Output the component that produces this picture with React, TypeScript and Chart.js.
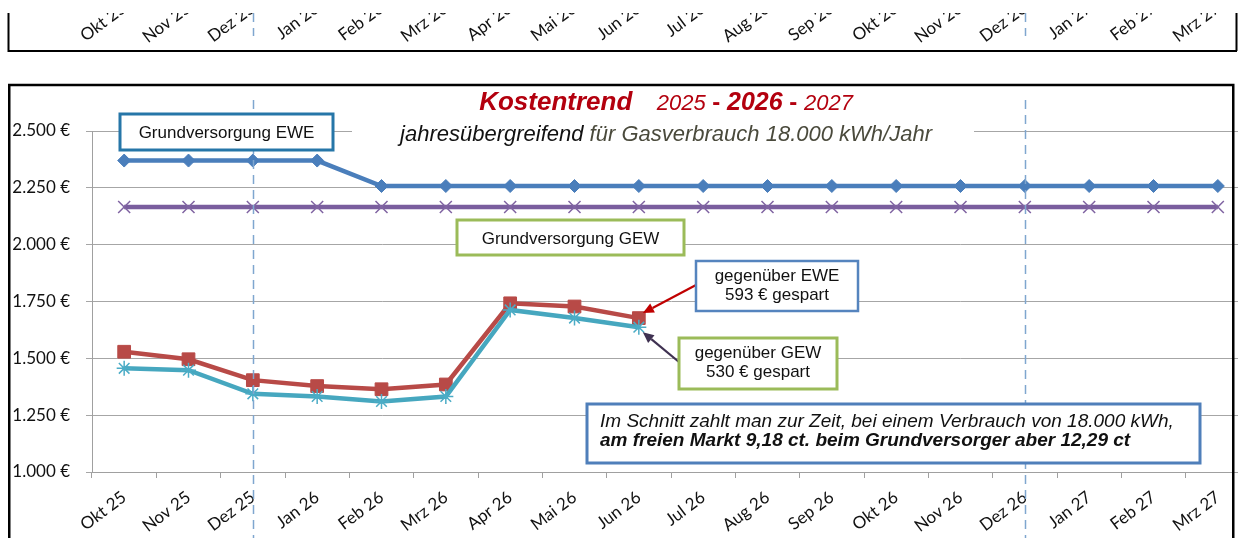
import { useEffect, useRef } from "react";
import { Chart, registerables } from "chart.js";

Chart.register(...registerables);

// ---------- data ----------
const categories = [
  "Okt 25", "Nov 25", "Dez 25", "Jan 26", "Feb 26", "Mrz 26", "Apr 26", "Mai 26", "Jun 26",
  "Jul 26", "Aug 26", "Sep 26", "Okt 26", "Nov 26", "Dez 26", "Jan 27", "Feb 27", "Mrz 27",
];
const grundversorgungEWE = [
  2370, 2370, 2370, 2370, 2258, 2258, 2258, 2258, 2258,
  2258, 2258, 2258, 2258, 2258, 2258, 2258, 2258, 2258,
];
const grundversorgungGEW = [
  2166, 2166, 2166, 2166, 2166, 2166, 2166, 2166, 2166,
  2166, 2166, 2166, 2166, 2166, 2166, 2166, 2166, 2166,
];
const tarifGegenEWE = [1529, 1496, 1404, 1378, 1364, 1385, 1742, 1728, 1677];
const tarifGegenGEW = [1456, 1448, 1344, 1332, 1310, 1332, 1713, 1677, 1637];
const yMin = 1000;
const yMax = 2500;
const yStep = 250;
const yearMarkers = ["Dez 25", "Dez 26"];

// ---------- texts ----------
const titleLine1 = [
  { t: "Kostentrend", f: "italic bold 26px", c: "#B3000E" },
  { t: "    2025", f: "italic 22px", c: "#B3000E" },
  { t: " - ", f: "bold 24px", c: "#B3000E" },
  { t: "2026", f: "italic bold 25px", c: "#B3000E" },
  { t: " - ", f: "bold 24px", c: "#B3000E" },
  { t: "2027", f: "italic 22px", c: "#B3000E" },
];
const titleLine2 = [
  { t: "jahresübergreifend ", f: "italic 22px", c: "#111111" },
  { t: "für Gasverbrauch 18.000 kWh/Jahr", f: "italic 22px", c: "#4A4A3C" },
];
const labelEWE = "Grundversorgung EWE";
const labelGEW = "Grundversorgung GEW";
const savedEWE = ["gegenüber EWE", "593 € gespart"];
const savedGEW = ["gegenüber GEW", "530 € gespart"];
const noteLine1 = "Im Schnitt zahlt man zur Zeit, bei einem Verbrauch von 18.000 kWh,";
const noteLine2 = "am freien Markt 9,18 ct. beim Grundversorger aber 12,29 ct";

const W = 1270;
const H = 560;
const SANS = '"Liberation Sans", Arial, sans-serif';
const AXISFONT = "Lato";

function fmtEuro(v: number) {
  const s = String(Math.round(v)).replace(/\B(?=(\d{3})+(?!\d))/g, ".");
  return s + " €";
}

function box(ctx: CanvasRenderingContext2D, x1: number, y1: number, x2: number, y2: number, color: string, lw: number) {
  ctx.save();
  ctx.fillStyle = "#ffffff";
  ctx.fillRect(x1, y1, x2 - x1, y2 - y1);
  ctx.strokeStyle = color;
  ctx.lineWidth = lw;
  ctx.strokeRect(x1, y1, x2 - x1, y2 - y1);
  ctx.restore();
}

function text(ctx: CanvasRenderingContext2D, s: string, x: number, y: number, font: string, color: string, align: CanvasTextAlign = "center") {
  ctx.save();
  ctx.font = font;
  ctx.fillStyle = color;
  ctx.textAlign = align;
  ctx.textBaseline = "alphabetic";
  ctx.fillText(s, x, y);
  ctx.restore();
}

function segments(ctx: CanvasRenderingContext2D, segs: { t: string; f: string; c: string }[], cx: number, y: number) {
  ctx.save();
  let total = 0;
  const widths = segs.map((s) => {
    ctx.font = s.f + " " + SANS;
    const w = ctx.measureText(s.t).width;
    total += w;
    return w;
  });
  let x = cx - total / 2;
  segs.forEach((s, i) => {
    ctx.font = s.f + " " + SANS;
    ctx.fillStyle = s.c;
    ctx.textAlign = "left";
    ctx.textBaseline = "alphabetic";
    ctx.fillText(s.t, x, y);
    x += widths[i];
  });
  ctx.restore();
}

function arrow(ctx: CanvasRenderingContext2D, x1: number, y1: number, x2: number, y2: number, color: string) {
  const ang = Math.atan2(y2 - y1, x2 - x1);
  const head = 11;
  const hw = 5;
  const bx = x2 - head * Math.cos(ang);
  const by = y2 - head * Math.sin(ang);
  ctx.save();
  ctx.strokeStyle = color;
  ctx.fillStyle = color;
  ctx.lineWidth = 2.2;
  ctx.beginPath();
  ctx.moveTo(x1, y1);
  ctx.lineTo(bx, by);
  ctx.stroke();
  ctx.beginPath();
  ctx.moveTo(x2, y2);
  ctx.lineTo(bx + hw * Math.sin(ang), by - hw * Math.cos(ang));
  ctx.lineTo(bx - hw * Math.sin(ang), by + hw * Math.cos(ang));
  ctx.closePath();
  ctx.fill();
  ctx.restore();
}

const overlay = {
  id: "overlay",
  afterDatasetsDraw(chart: any) {
    const ctx: CanvasRenderingContext2D = chart.ctx;
    const xs = chart.scales.x;
    const ys = chart.scales.y;

    // dashed year separators
    ctx.save();
    ctx.strokeStyle = "#7FA6CF";
    ctx.lineWidth = 1.5;
    ctx.setLineDash([9, 6]);
    yearMarkers.forEach((m) => {
      const x = Math.round(xs.getPixelForValue(categories.indexOf(m))) + 0.5;
      ctx.beginPath();
      ctx.moveTo(x, 100);
      ctx.lineTo(x, H);
      ctx.stroke();
    });
    ctx.restore();

    // title
    ctx.save();
    ctx.fillStyle = "#ffffff";
    ctx.fillRect(352, 124, 622, 14);
    ctx.restore();
    segments(ctx, titleLine1, 666, 110);
    segments(ctx, titleLine2, 666, 141);

    // labels
    box(ctx, 120, 114, 333, 150, "#2676A8", 3);
    text(ctx, labelEWE, 226.5, 138, "17px " + SANS, "#111");
    box(ctx, 457, 220, 684, 255, "#9BBB59", 3);
    text(ctx, labelGEW, 570.5, 243.5, "17px " + SANS, "#111");

    // arrows to the last values
    const lastA = tarifGegenEWE.length - 1;
    const pa = { x: xs.getPixelForValue(lastA), y: ys.getPixelForValue(tarifGegenEWE[lastA]) };
    const lastB = tarifGegenGEW.length - 1;
    const pb = { x: xs.getPixelForValue(lastB), y: ys.getPixelForValue(tarifGegenGEW[lastB]) };
    arrow(ctx, 696, 285, pa.x + 4, pa.y - 5, "#C00000");
    arrow(ctx, 679, 362, pb.x + 4, pb.y + 5, "#3F3151");

    box(ctx, 696, 261, 858, 311, "#5584BE", 2.5);
    text(ctx, savedEWE[0], 777, 281, "17px " + SANS, "#111");
    text(ctx, savedEWE[1], 777, 300, "17px " + SANS, "#111");
    box(ctx, 679, 338, 837, 389, "#9BBB59", 3);
    text(ctx, savedGEW[0], 758, 358, "17px " + SANS, "#111");
    text(ctx, savedGEW[1], 758, 377, "17px " + SANS, "#111");

    box(ctx, 587, 404, 1200, 463, "#4F7FBA", 3);
    text(ctx, noteLine1, 600, 427, "italic 19px " + SANS, "#111", "left");
    text(ctx, noteLine2, 600, 446, "italic bold 19px " + SANS, "#111", "left");
  },
  afterDraw(chart: any) {
    const ctx: CanvasRenderingContext2D = chart.ctx;
    const xs = chart.scales.x;
    // main chart frame
    ctx.save();
    ctx.strokeStyle = "#000";
    ctx.lineWidth = 2.5;
    ctx.strokeRect(9.25, 85, 1224, 470);
    ctx.restore();

    // strip of the previous chart above
    ctx.save();
    ctx.beginPath();
    ctx.rect(9, 13, 1227, 37);
    ctx.clip();
    ctx.save();
    ctx.strokeStyle = "#7FA6CF";
    ctx.lineWidth = 1.5;
    ctx.setLineDash([9, 6]);
    yearMarkers.forEach((m) => {
      const x = Math.round(xs.getPixelForValue(categories.indexOf(m))) + 0.5;
      ctx.beginPath();
      ctx.moveTo(x, 13);
      ctx.lineTo(x, 36);
      ctx.stroke();
    });
    ctx.restore();
    ctx.translate(0, -489);
    xs.drawLabels(chart.chartArea);
    ctx.restore();

    ctx.save();
    ctx.strokeStyle = "#000";
    ctx.lineWidth = 2;
    ctx.beginPath();
    ctx.moveTo(8.5, 13);
    ctx.lineTo(8.5, 51);
    ctx.lineTo(1237, 51);
    ctx.moveTo(1236.5, 13);
    ctx.lineTo(1236.5, 51);
    ctx.stroke();
    ctx.restore();
  },
};

export default function App() {
  const ref = useRef<HTMLCanvasElement | null>(null);
  useEffect(() => {
    if (!ref.current) return;
    const chart = new Chart(ref.current, {
      type: "line",
      data: {
        labels: categories,
        datasets: [
          {
            label: "Grundversorgung EWE",
            data: grundversorgungEWE,
            borderColor: "#4A7EBB",
            backgroundColor: "#4A7EBB",
            borderWidth: 4.5,
            pointStyle: "rectRot",
            pointRadius: 6.5,
            pointBorderWidth: 1,
            pointBackgroundColor: "#4A7EBB",
            pointBorderColor: "#4A7EBB",
            tension: 0,
            order: 1,
          },
          {
            label: "Grundversorgung GEW",
            data: grundversorgungGEW,
            borderColor: "#7A5E9E",
            backgroundColor: "#7A5E9E",
            borderWidth: 4.5,
            pointStyle: "crossRot",
            pointRadius: 8.5,
            pointBorderWidth: 1.5,
            pointBorderColor: "#8064A2",
            tension: 0,
            order: 2,
          },
          {
            label: "gegenüber GEW",
            data: tarifGegenGEW,
            borderColor: "#46A7BF",
            backgroundColor: "#46A7BF",
            borderWidth: 4.5,
            pointStyle: "star",
            pointRadius: 7.5,
            pointBorderWidth: 1.5,
            pointBorderColor: "#4BACC6",
            tension: 0,
            order: 3,
          },
          {
            label: "gegenüber EWE",
            data: tarifGegenEWE,
            borderColor: "#B84A47",
            backgroundColor: "#B84A47",
            borderWidth: 4.5,
            pointStyle: "rect",
            pointRadius: 9,
            pointBorderWidth: 1,
            pointBackgroundColor: "#B84A47",
            pointBorderColor: "#B84A47",
            tension: 0,
            order: 4,
          },
        ],
      },
      options: {
        responsive: false,
        animation: false,
        devicePixelRatio: 1,
        layout: { padding: { left: 0, right: W - 1250, top: 131, bottom: H - 472 - 80 } },
        plugins: { legend: { display: false }, tooltip: { enabled: false }, title: { display: false } },
        scales: {
          x: {
            offset: true,
            grid: { offset: true, drawOnChartArea: false, tickLength: 6, color: "#A0A0A0" },
            border: { color: "#A0A0A0" },
            ticks: {
              autoSkip: false,
              minRotation: 37,
              maxRotation: 37,
              color: "#111",
              padding: 9,
              font: { family: AXISFONT, size: 17 },
            },
            afterFit: (s: any) => {
              s.height = 80;
            },
          },
          y: {
            min: yMin,
            max: yMax,
            ticks: {
              stepSize: yStep,
              color: "#111",
              padding: 16,
              font: { family: AXISFONT, size: 17 },
              callback: (v: any) => fmtEuro(Number(v)),
            },
            grid: { color: "#A6A6A6", tickLength: 6 },
            border: { color: "#A0A0A0" },
            afterFit: (s: any) => {
              s.width = 92;
            },
          },
        },
      },
      plugins: [overlay],
    });
    return () => chart.destroy();
  }, []);
  return (
    <div style={{ position: "fixed", left: 0, top: 0, width: 1238, height: 538, overflow: "hidden", background: "#fff" }}>
      <canvas ref={ref} width={W} height={H} style={{ display: "block", width: W, height: H }} />
    </div>
  );
}
